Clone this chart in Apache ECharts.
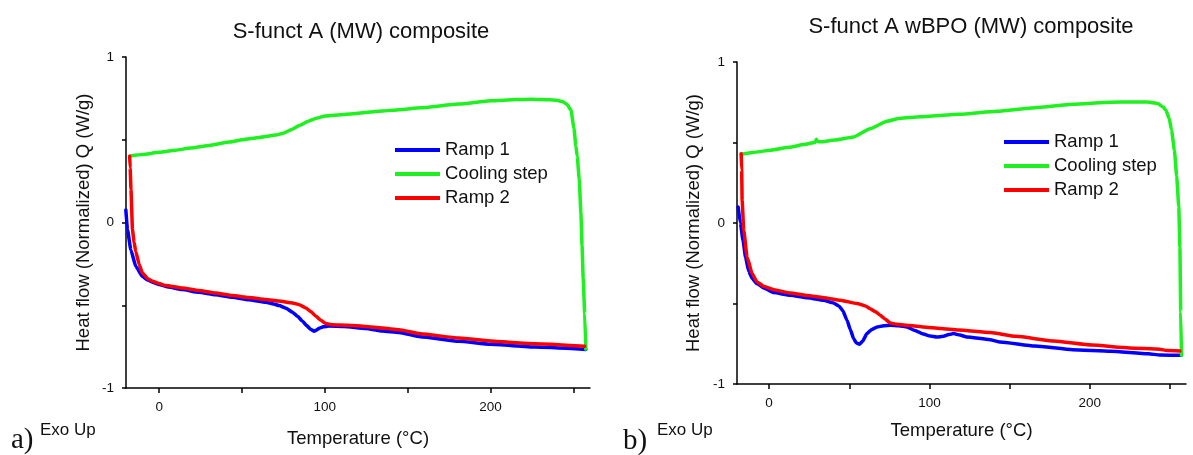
<!DOCTYPE html>
<html>
<head>
<meta charset="utf-8">
<script src="https://cdn.jsdelivr.net/npm/echarts@6/dist/echarts.min.js"></script>
<style>
html,body{margin:0;padding:0;background:#fff;}
#c{width:1193px;height:455px;}
</style>
</head>
<body>
<div id="c"></div>
<script>
// ---------- DATA ----------
const titles = ['S-funct A (MW) composite', 'S-funct A wBPO (MW) composite'];
const seriesNames = ['Ramp 1', 'Cooling step', 'Ramp 2'];
const xTickValues = [0, 50, 100, 150, 200, 250];
const xLabelValues = [0, 100, 200];
const yTickValues = [-1, -0.5, 0, 0.5, 1];
const yLabelValues = [-1, 0, 1];

// Panel a) S-funct A (MW) composite  [Temperature °C, Q W/g]
const aRamp1 = [[-20.1,0.076],[-19.1,-0.044],[-17.1,-0.164],[-14.1,-0.265],[-10.1,-0.325],[-7,-0.347],[-4,-0.361],[0,-0.374],[4,-0.386],[14,-0.405],[24.1,-0.422],[34,-0.437],[44.2,-0.452],[54,-0.467],[64.4,-0.482],[69,-0.492],[72.4,-0.502],[76.5,-0.518],[80.5,-0.542],[83.5,-0.567],[86.5,-0.596],[89,-0.623],[91.5,-0.646],[93.5,-0.657],[95,-0.650],[96.6,-0.639],[99,-0.630],[102.6,-0.626],[111.5,-0.628],[124.7,-0.640],[134.6,-0.655],[144.8,-0.664],[157.7,-0.690],[180.8,-0.718],[200,-0.736],[227,-0.753],[257.5,-0.767]];
const aCool = [[257.5,-0.765],[256.8,-0.55],[255.9,-0.34],[255.2,-0.14],[254.5,0.06],[253.5,0.26],[252.3,0.40],[251.5,0.46],[250.3,0.57],[248.5,0.68],[246,0.715],[243.4,0.731],[240,0.738],[235.4,0.741],[225,0.744],[215.5,0.743],[200,0.735],[180.8,0.716],[157.7,0.693],[144.8,0.682],[134.6,0.673],[111.5,0.653],[100,0.643],[95,0.630],[90,0.612],[85,0.588],[80,0.562],[75,0.540],[70.4,0.528],[60.4,0.514],[50.3,0.500],[42,0.486],[30.2,0.466],[19,0.450],[10,0.437],[0,0.424],[-10,0.411],[-17.5,0.402]];
const aRamp2 = [[-17.8,0.400],[-17.5,0.330],[-17.0,0.200],[-16.1,-0.044],[-15.1,-0.120],[-14.1,-0.175],[-12,-0.255],[-10.1,-0.305],[-7,-0.338],[-4,-0.355],[0,-0.369],[4,-0.381],[14,-0.396],[24.1,-0.411],[34,-0.426],[44.2,-0.441],[54,-0.453],[64.4,-0.465],[72,-0.475],[80.5,-0.486],[85,-0.498],[88.5,-0.516],[91.5,-0.538],[94.6,-0.566],[97.5,-0.590],[100.6,-0.610],[104.6,-0.618],[114,-0.621],[124.7,-0.628],[134.6,-0.638],[144.8,-0.648],[157.7,-0.672],[180.8,-0.698],[203.9,-0.719],[227,-0.733],[256.8,-0.748]];

// Panel b) S-funct A wBPO (MW) composite
const bRamp1 = [[-19.3,0.100],[-17.9,0.000],[-16.2,-0.110],[-14.7,-0.211],[-12.7,-0.300],[-10.5,-0.345],[-7.5,-0.377],[-3,-0.405],[2.9,-0.432],[13.3,-0.449],[24,-0.465],[34,-0.480],[40.2,-0.497],[43.5,-0.515],[46,-0.545],[48.6,-0.604],[50.8,-0.665],[52.7,-0.718],[54.5,-0.745],[56.4,-0.753],[58.3,-0.735],[61,-0.687],[64,-0.662],[67.3,-0.646],[71.5,-0.638],[75.6,-0.635],[81,-0.638],[86,-0.646],[91,-0.667],[96.3,-0.690],[100.5,-0.702],[104.6,-0.708],[108.8,-0.704],[112,-0.693],[115,-0.687],[119,-0.696],[123.3,-0.708],[137.8,-0.725],[144,-0.739],[165.8,-0.764],[189.4,-0.787],[213,-0.797],[236.5,-0.812],[243.7,-0.820],[257.2,-0.822]];
const bCool = [[257.2,-0.822],[256.7,-0.55],[256.2,-0.149],[255.5,0.10],[254.2,0.29],[252.8,0.45],[251,0.576],[249.5,0.65],[247.5,0.70],[245.8,0.720],[242.4,0.742],[236,0.751],[227,0.752],[213,0.750],[189.4,0.737],[165.8,0.716],[142.3,0.694],[118.7,0.675],[94.2,0.660],[81.8,0.650],[73.5,0.632],[63,0.586],[52.7,0.534],[41,0.515],[32,0.504],[30.5,0.505],[29.5,0.520],[28.6,0.500],[21.6,0.487],[12.7,0.470],[0.8,0.452],[-10,0.438],[-17.4,0.427]];
const bRamp2 = [[-17.4,0.430],[-17.1,0.330],[-16.8,0.140],[-15.8,-0.045],[-13.7,-0.211],[-10.6,-0.314],[-7.5,-0.366],[-3,-0.395],[2.9,-0.414],[13.3,-0.435],[24,-0.450],[34,-0.464],[44.4,-0.480],[54.8,-0.500],[60,-0.515],[63,-0.532],[66.5,-0.552],[69.3,-0.573],[72.5,-0.598],[75.6,-0.621],[79.7,-0.629],[88,-0.637],[96.3,-0.646],[107,-0.655],[118,-0.664],[137.8,-0.680],[154,-0.704],[177.6,-0.733],[201.2,-0.758],[224.7,-0.776],[243.6,-0.784],[248,-0.792],[256.2,-0.795]];

// ---------- CHART ----------
const FONT = '"Liberation Sans", Arial, sans-serif';
const colors = {'Ramp 1':'#0000ff','Cooling step':'#1ff01f','Ramp 2':'#ff0000'};
const layout = [
  {left:126, top:57, width:464, height:331, titleX:361, titleY:32, yNameGap:33, xNameGap:41, lgLeft:395, lgTop:140, panelLabel:'a)', plX:11, plY:440, exoX:40, exoY:430},
  {left:737, top:62, width:449, height:322, titleX:971, titleY:27, yNameGap:34, xNameGap:37, lgLeft:1004, lgTop:132, panelLabel:'b)', plX:623, plY:441, exoX:657, exoY:430}
];
const panelData = [[aRamp1, aCool, aRamp2],[bRamp1, bCool, bRamp2]];

const chart = echarts.init(document.getElementById('c'), null, {renderer:'canvas'});
const grid = [], xAxis = [], yAxis = [], series = [], legend = [], graphic = [];
layout.forEach((L, i) => {
  grid.push({left:L.left, top:L.top, width:L.width, height:L.height, containLabel:false});
  xAxis.push({
    type:'value', gridIndex:i, min:-20, max:260,
    name:'Temperature (\u00B0C)', nameLocation:'middle', nameGap:L.xNameGap,
    nameTextStyle:{fontFamily:FONT, fontSize:18.5, color:'#111'},
    axisLine:{show:true, onZero:false, lineStyle:{color:'#000', width:1.5}},
    axisTick:{show:true, customValues:xTickValues, length:5, lineStyle:{color:'#000', width:1.5}},
    axisLabel:{customValues:xLabelValues, margin:12, fontFamily:FONT, fontSize:13.5, color:'#111'},
    splitLine:{show:false}
  });
  yAxis.push({
    type:'value', gridIndex:i, min:-1, max:1,
    name:'Heat flow (Normalized) Q (W/g)', nameLocation:'middle', nameGap:L.yNameGap, nameRotate:90,
    nameTextStyle:{fontFamily:FONT, fontSize:18.5, color:'#111'},
    axisLine:{show:true, onZero:false, lineStyle:{color:'#000', width:1.5}},
    axisTick:{show:true, customValues:yTickValues, length:4, lineStyle:{color:'#000', width:1.5}},
    axisLabel:{customValues:yLabelValues, margin:12, fontFamily:FONT, fontSize:13.5, color:'#111'},
    splitLine:{show:false}
  });
  seriesNames.forEach((nm, k) => {
    series.push({
      name:nm, type:'line', xAxisIndex:i, yAxisIndex:i, data:panelData[i][k],
      showSymbol:false, smooth:0.15, smoothMonotone:'x',
      lineStyle:{width:3.5, color:colors[nm], cap:'round', join:'round'}, itemStyle:{color:colors[nm]},
      z: k===1 ? 2 : (k===2 ? 3 : 1)
    });
  });
  legend.push({
    orient:'vertical', left:L.lgLeft, top:L.lgTop, padding:0, itemGap:4,
    icon:'rect', itemWidth:45, itemHeight:4,
    data:seriesNames,
    textStyle:{fontFamily:FONT, fontSize:18.5, color:'#111', lineHeight:20}
  });
  graphic.push({type:'text', x:L.titleX, y:L.titleY,
    style:{text:titles[i], align:'center', verticalAlign:'middle', textAlign:'center', textVerticalAlign:'middle', font:'22px ' + FONT, fill:'#111'}});
  graphic.push({type:'text', x:L.plX, y:L.plY,
    style:{text:L.panelLabel, align:'left', verticalAlign:'middle', textAlign:'left', textVerticalAlign:'middle', font:'29px "Liberation Serif", "Times New Roman", serif', fill:'#111'}});
  graphic.push({type:'text', x:L.exoX, y:L.exoY,
    style:{text:'Exo Up', align:'left', verticalAlign:'middle', textAlign:'left', textVerticalAlign:'middle', font:'17px ' + FONT, fill:'#111'}});
});

chart.setOption({
  animation:false,
  backgroundColor:'#fff',
  grid, xAxis, yAxis, series, legend, graphic
});
</script>
</body>
</html>
